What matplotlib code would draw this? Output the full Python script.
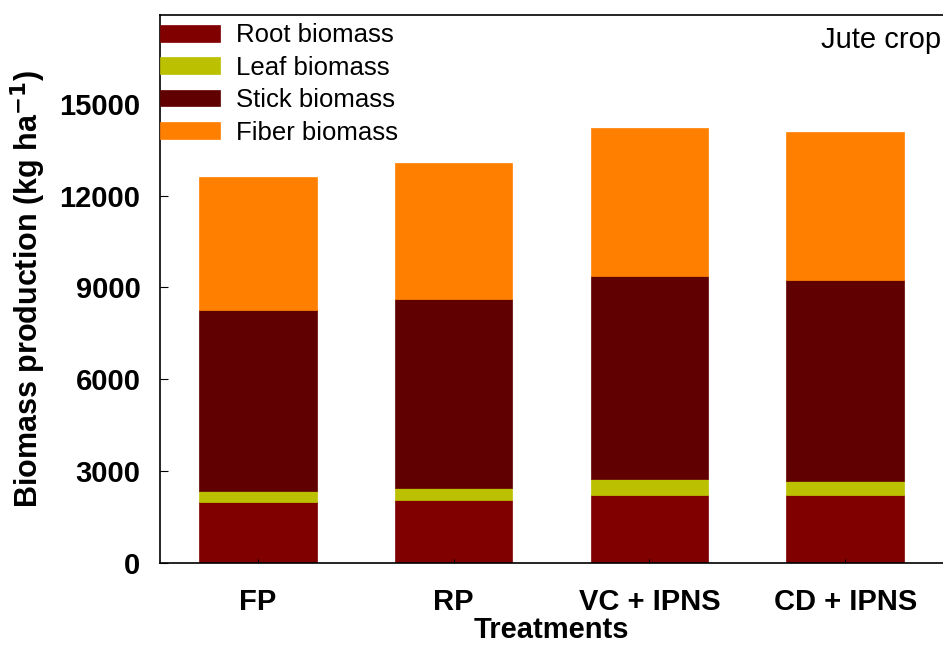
import numpy as np
import matplotlib
matplotlib.use("Agg")
import matplotlib.pyplot as plt

plt.rcParams['font.family'] = ['Liberation Sans', 'DejaVu Sans']

treatments = ["FP", "RP", "VC + IPNS", "CD + IPNS"]
root = [2000, 2050, 2220, 2210]
leaf = [350, 400, 510, 470]
stick = [5930, 6190, 6630, 6580]
fiber = [4340, 4430, 4860, 4830]

labels = ["Root biomass", "Leaf biomass", "Stick biomass", "Fiber biomass"]
colors = ["#800000", "#bbc000", "#600000", "#ff8000"]

fig = plt.figure(figsize=(9.43, 6.45), dpi=100)
ax = fig.add_axes([0.1697, 0.1271, 0.8303, 0.8496])

x = np.arange(len(treatments))
bottom = np.zeros(len(treatments))
for vals, lab, col in zip([root, leaf, stick, fiber], labels, colors):
    ax.bar(x, vals, width=0.6, bottom=bottom, color=col, label=lab,
           edgecolor=col, linewidth=0.5)
    bottom += np.array(vals)

ax.set_xlim(-0.5, 3.5)
ax.set_ylim(0, 17900)
ax.set_yticks([0, 3000, 6000, 9000, 12000, 15000])
ax.set_xticks(x)
ax.set_xticklabels(treatments, fontsize=21, fontweight='bold')
for t in ax.get_yticklabels():
    t.set_fontsize(21)
    t.set_fontweight('bold')
ax.tick_params(axis='y', direction='in', length=6, pad=14)
ax.tick_params(axis='x', direction='in', length=3, pad=18)
ax.spines['right'].set_visible(False)
for s in ['left', 'top', 'bottom']:
    ax.spines[s].set_linewidth(1.2)

ax.set_ylabel("Biomass production (kg ha$^{\\mathbf{-1}}$)", fontsize=22,
              fontweight='bold', labelpad=8)
ax.set_xlabel("Treatments", fontsize=21, fontweight='bold', labelpad=0)

ax.legend(loc='upper left', frameon=False, fontsize=18.5,
          bbox_to_anchor=(0.0, 0.985),
          handlelength=2.35, handleheight=0.62, labelspacing=0.33,
          handletextpad=0.6, borderpad=0.0, borderaxespad=0.0)

ax.text(0.997, 0.955, "Jute crop", transform=ax.transAxes, ha='right',
        va='center', fontsize=21)

fig.savefig("out.png", dpi=100)
